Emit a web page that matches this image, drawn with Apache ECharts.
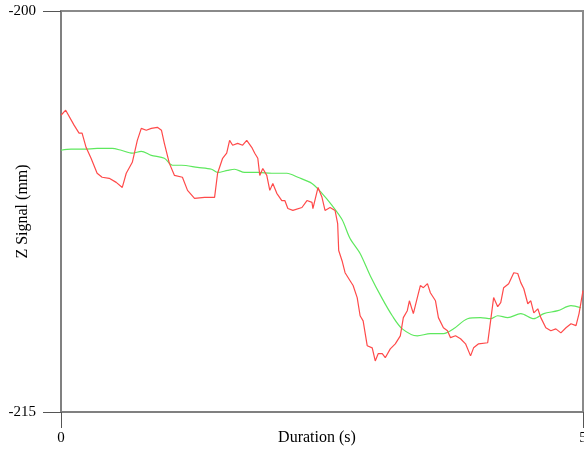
<!DOCTYPE html>
<html>
<head>
<meta charset="utf-8">
<script src="https://cdn.jsdelivr.net/npm/echarts@6/dist/echarts.min.js"></script>
<style>html,body{margin:0;padding:0;background:#fff;}#c{width:584px;height:449px;}</style>
</head>
<body>
<div id="c"></div>
<script>
const redT = [0,0.045,0.125,0.173,0.202,0.24,0.288,0.346,0.394,0.462,0.529,0.587,0.625,0.683,0.731,0.769,0.817,0.865,0.923,0.962,0.99,1.038,1.087,1.163,1.212,1.279,1.375,1.471,1.5,1.548,1.587,1.615,1.644,1.692,1.74,1.779,1.827,1.856,1.885,1.904,1.933,1.971,2.0,2.029,2.067,2.115,2.144,2.173,2.221,2.308,2.356,2.404,2.413,2.462,2.5,2.529,2.577,2.625,2.65,2.66,2.692,2.721,2.769,2.798,2.837,2.865,2.894,2.933,2.981,3.01,3.038,3.077,3.106,3.154,3.202,3.25,3.279,3.317,3.337,3.375,3.413,3.442,3.471,3.51,3.538,3.587,3.615,3.663,3.702,3.731,3.779,3.827,3.875,3.923,3.952,4.0,4.087,4.115,4.144,4.183,4.212,4.24,4.288,4.337,4.375,4.404,4.433,4.471,4.5,4.529,4.567,4.596,4.644,4.692,4.74,4.788,4.837,4.885,4.933,4.962,5.0];
const redV = [-203.90,-203.71,-204.27,-204.57,-204.57,-205.10,-205.51,-206.07,-206.22,-206.26,-206.41,-206.60,-206.07,-205.66,-204.84,-204.39,-204.46,-204.39,-204.35,-204.46,-204.95,-205.70,-206.15,-206.22,-206.71,-207.01,-206.97,-206.97,-206.07,-205.51,-205.32,-204.84,-205.02,-204.95,-205.02,-204.84,-205.10,-205.32,-205.51,-206.15,-205.89,-206.15,-206.71,-206.45,-206.82,-207.09,-207.09,-207.39,-207.46,-207.35,-207.09,-207.16,-207.39,-206.60,-206.97,-207.46,-207.35,-207.46,-207.95,-208.96,-209.34,-209.79,-210.09,-210.27,-210.72,-211.40,-211.59,-212.52,-212.60,-213.09,-212.82,-212.82,-212.97,-212.64,-212.45,-212.15,-211.47,-211.21,-210.84,-211.32,-210.72,-210.27,-210.35,-210.20,-210.54,-210.84,-211.47,-211.85,-211.96,-212.22,-212.15,-212.26,-212.45,-212.90,-212.60,-212.45,-212.41,-211.59,-210.72,-211.06,-210.91,-210.35,-210.20,-209.79,-209.82,-210.16,-210.39,-210.95,-210.84,-211.29,-211.14,-211.47,-211.85,-211.96,-211.89,-212.04,-211.85,-211.70,-211.77,-211.32,-210.46];
const greenT = [0,0.096,0.221,0.346,0.49,0.577,0.683,0.769,0.865,0.99,1.067,1.154,1.308,1.442,1.5,1.596,1.663,1.76,1.885,2.019,2.163,2.269,2.404,2.5,2.596,2.692,2.769,2.865,2.962,3.077,3.173,3.269,3.413,3.538,3.663,3.76,3.894,4.019,4.115,4.183,4.279,4.404,4.529,4.625,4.76,4.885,4.981];
const greenV = [-205.21,-205.17,-205.17,-205.14,-205.14,-205.21,-205.32,-205.25,-205.40,-205.51,-205.77,-205.77,-205.85,-205.92,-206.04,-205.96,-205.92,-206.04,-206.04,-206.07,-206.07,-206.22,-206.45,-206.82,-207.27,-207.80,-208.51,-209.07,-209.90,-210.76,-211.40,-211.89,-212.15,-212.07,-212.07,-211.89,-211.51,-211.47,-211.51,-211.40,-211.47,-211.32,-211.51,-211.32,-211.21,-211.02,-211.10];
const xTicks = [0, 5];
const yTicks = [-215, -200];

const font = '"Liberation Serif", "Times New Roman", serif';
const chart = echarts.init(document.getElementById('c'), null, {renderer: 'canvas'});
chart.setOption({
  animation: false,
  backgroundColor: '#fff',
  grid: {left: 61, right: 1, top: 11, bottom: 37, containLabel: false, outerBoundsMode: 'none', show: true, borderColor: '#8a8a8a', borderWidth: 2, backgroundColor: 'transparent'},
  xAxis: {
    type: 'value', min: xTicks[0], max: xTicks[1], interval: xTicks[1] - xTicks[0],
    name: 'Duration (s)', nameLocation: 'middle', nameGap: 18, nameMoveOverlap: false,
    nameTextStyle: {fontFamily: font, fontSize: 16, color: '#000', verticalAlign: 'top', padding: [0, 10, 0, 0]},
    axisLine: {show: true, lineStyle: {color: '#808080', width: 2}},
    axisTick: {show: true, inside: false, length: 16, lineStyle: {color: '#555', width: 1}},
    axisLabel: {fontFamily: font, fontSize: 15, color: '#000', margin: 19},
    splitLine: {show: false}
  },
  yAxis: {
    type: 'value', min: yTicks[0], max: yTicks[1], interval: yTicks[1] - yTicks[0],
    name: 'Z Signal (mm)', nameLocation: 'middle', nameGap: 30, nameRotate: 90, nameMoveOverlap: false,
    nameTextStyle: {fontFamily: font, fontSize: 16, color: '#000'},
    axisLine: {show: true, lineStyle: {color: '#808080', width: 2}},
    axisTick: {show: true, inside: false, length: 18, lineStyle: {color: '#555', width: 1}},
    axisLabel: {fontFamily: font, fontSize: 15, color: '#000', margin: 25},
    splitLine: {show: false}
  },
  series: [
    {type: 'line', data: redT.map((t, i) => [t, redV[i]]), showSymbol: false, lineStyle: {color: '#ff4a4a', width: 1.2}, z: 3},
    {type: 'line', data: greenT.map((t, i) => [t, greenV[i]]), showSymbol: false, smooth: 0.3, lineStyle: {color: '#5ee85e', width: 1.2}, z: 2}
  ]
});
</script>
</body>
</html>
